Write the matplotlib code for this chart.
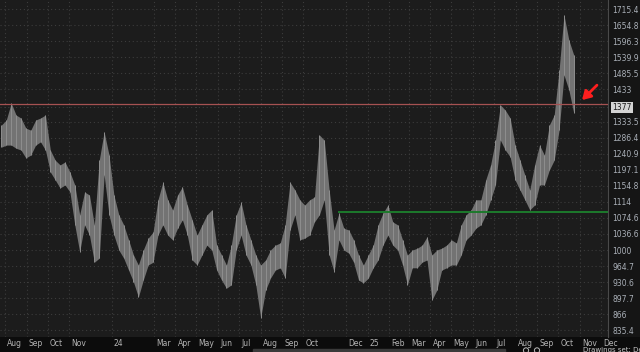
import matplotlib
matplotlib.use("Agg")
import matplotlib.pyplot as plt
import matplotlib.dates as mdates
from matplotlib.ticker import FixedLocator, NullLocator, NullFormatter
import numpy as np
import pandas as pd

# ---------------- data (weekly high / low) ----------------
week_start = pd.date_range("2023-07-24", periods=118, freq="W-MON")
week_high = [1323, 1338, 1390, 1353, 1344, 1314, 1308, 1338, 1344, 1353,
             1251, 1223, 1210, 1218, 1191, 1157, 1082, 1139, 1131, 1058,
             1223, 1303, 1237, 1131, 1082, 1058, 1023, 989, 967, 1000,
             1027, 1041, 1119, 1164, 1119, 1094, 1131, 1152, 1106, 1070,
             1034, 1058, 1082, 1094, 1011, 989, 967, 1011, 1082, 1113,
             1058, 1023, 989, 967, 978, 1000, 1011, 1016, 1058, 1164,
             1144, 1119, 1106, 1119, 1126, 1294, 1279, 1144, 1046, 1086,
             1050, 1046, 1023, 989, 967, 989, 1011, 1058, 1086, 1106,
             1065, 1058, 1023, 989, 1000, 1004, 1011, 1030, 989, 1000,
             1004, 1011, 1023, 1016, 1058, 1082, 1094, 1119, 1119, 1170,
             1210, 1279, 1384, 1368, 1344, 1265, 1223, 1183, 1144, 1210,
             1265, 1237, 1323, 1353, 1497, 1693, 1600, 1548]
week_low = [1259, 1265, 1265, 1256, 1251, 1229, 1237, 1265, 1274, 1251,
            1191, 1170, 1149, 1157, 1139, 1058, 996, 1058, 1034, 973,
            982, 1183, 1082, 1034, 1000, 982, 956, 931, 900, 935,
            967, 973, 1034, 1058, 1034, 1023, 1050, 1070, 1034, 978,
            967, 989, 1011, 1000, 956, 935, 918, 925, 1000, 1034,
            989, 967, 925, 859, 914, 939, 956, 961, 939, 1046,
            1082, 1023, 1027, 1034, 1065, 1082, 1119, 989, 952, 1023,
            1000, 993, 973, 935, 929, 939, 961, 978, 1011, 1034,
            1011, 1000, 967, 925, 961, 961, 973, 978, 894, 914,
            956, 961, 967, 967, 989, 1023, 1034, 1050, 1058, 1082,
            1119, 1157, 1279, 1251, 1232, 1170, 1144, 1119, 1094, 1106,
            1157, 1157, 1196, 1223, 1308, 1480, 1431, 1359]

last_price = 1377
resistance_level = 1388
support_level = 1089
support_start = "2024-11-19"

price_ticks = [835.4, 866, 897.7, 930.6, 964.7, 1000, 1036.6, 1074.6, 1114,
               1154.8, 1197.1, 1240.9, 1286.4, 1333.5, 1433, 1485.5, 1539.9,
               1596.3, 1654.8, 1715.4]
price_tick_labels = ["835.4", "866", "897.7", "930.6", "964.7", "1000", "1036.6",
                     "1074.6", "1114", "1154.8", "1197.1", "1240.9", "1286.4",
                     "1333.5", "1433", "1485.5", "1539.9", "1596.3", "1654.8",
                     "1715.4"]
grid_prices = price_ticks + [1377]

month_dates = ["2023-08-01", "2023-09-01", "2023-10-01", "2023-11-01", "2024-01-01",
               "2024-03-01", "2024-04-01", "2024-05-01", "2024-06-01", "2024-07-01",
               "2024-08-01", "2024-09-01", "2024-10-01", "2024-12-01", "2025-01-01",
               "2025-02-01", "2025-03-01", "2025-04-01", "2025-05-01", "2025-06-01",
               "2025-07-01", "2025-08-01", "2025-09-01", "2025-10-01", "2025-11-01",
               "2025-12-01"]
month_labels = ["Aug", "Sep", "Oct", "Nov", "24", "Mar", "Apr", "May", "Jun", "Jul",
                "Aug", "Sep", "Oct", "Dec", "25", "Feb", "Mar", "Apr", "May", "Jun",
                "Jul", "Aug", "Sep", "Oct", "Nov", "Dec"]

x_start, x_end = "2023-07-25", "2025-12-11"
y_min, y_max = 823, 1750.6
arrow_tail = ("2025-11-28", 1453)
arrow_tip = ("2025-11-01", 1393)

# ---------------- figure ----------------
W, H = 640, 352
fig = plt.figure(figsize=(W / 100, H / 100), dpi=100, facecolor="#151515")

# bottom band (drawn underneath the chart axes)
band = fig.add_axes([0, 0, 1, 15 / H])
band.set_zorder(0)
band.set_xlim(0, W)
band.set_ylim(0, 15)
band.axis("off")
band.add_patch(plt.Rectangle((0, 0), W, 15, color="#0c0c0c", zorder=0))
band.add_patch(plt.Rectangle((253, 0), 252, 3.5, color="#3a3a3a", zorder=1))
band.text(583, 4.6, "Drawings set: Default", color="#c8c8c8", fontsize=5.0,
          va="top", ha="left", clip_on=False)
for cx in (526, 537):
    band.add_patch(plt.Circle((cx, 1.6), 2.6, fill=False, ec="#bbbbbb", lw=0.7))

ax = fig.add_axes([0, 15 / H, 608 / W, 337 / H])
ax.set_zorder(2)
ax.set_facecolor("#1c1c1c")

# price ribbon
dates = mdates.date2num(week_start) + 3.0
hi = np.array(week_high, dtype=float)
lo = np.array(week_low, dtype=float)
ax.fill_between(dates, lo, hi, color="#737373", linewidth=0, zorder=3)
ax.vlines(dates, lo, hi, color="#8e8e8e", linewidth=0.7, zorder=3.5)

ax.set_yscale("log")
ax.set_ylim(y_min, y_max)
ax.set_xlim(mdates.datestr2num(x_start), mdates.datestr2num(x_end))

# grid
for gp in grid_prices:
    ax.axhline(gp, color="#3c3c3c", lw=0.8, ls=(0, (1, 2.5)), zorder=1)
mnums = [mdates.datestr2num(d) for d in month_dates]
for m in mnums:
    ax.axvline(m, color="#3c3c3c", lw=0.8, ls=(0, (1, 2.5)), zorder=1)

# levels
ax.axhline(resistance_level, color="#a65252", lw=0.9, zorder=4)
ax.hlines(support_level, mdates.datestr2num(support_start),
          mdates.datestr2num(x_end), color="#1d7a2c", lw=1.4, zorder=4)

# arrow
ax.annotate("", xy=(mdates.datestr2num(arrow_tip[0]), arrow_tip[1]),
            xytext=(mdates.datestr2num(arrow_tail[0]), arrow_tail[1]),
            arrowprops=dict(arrowstyle="-|>,head_length=0.5,head_width=0.3",
                            color="#ff1e1e", lw=2.0), zorder=6)

# y ticks on the right
ax.yaxis.tick_right()
ax.yaxis.set_major_locator(FixedLocator(price_ticks))
ax.yaxis.set_minor_locator(NullLocator())
ax.yaxis.set_minor_formatter(NullFormatter())
ax.set_yticklabels(price_tick_labels)
ax.tick_params(axis="y", length=0, pad=3, labelsize=5.5, labelcolor="#aab0b8")
for lbl in ax.get_yticklabels():
    lbl.set_horizontalalignment("left")

# current price box
ax.annotate(str(last_price), xy=(1.0, last_price),
            xycoords=("axes fraction", "data"), xytext=(3, 0),
            textcoords="offset points", fontsize=5.5, color="#1a1a1a",
            va="center", ha="left", annotation_clip=False,
            bbox=dict(boxstyle="square,pad=0.15", fc="#d4d4d4", ec="none"))

# x labels in bottom band
ax.xaxis.set_major_locator(FixedLocator(mnums))
ax.set_xticklabels([])
ax.tick_params(axis="x", length=0)
for m, lab in zip(mnums, month_labels):
    ax.annotate(lab, xy=(m, 0), xycoords=("data", "axes fraction"),
                xytext=(1.5, -4.6), textcoords="offset points",
                fontsize=5.5, color="#b4b4b4", ha="left", va="center",
                annotation_clip=False)

for s in ["top", "left", "bottom"]:
    ax.spines[s].set_visible(False)
ax.spines["right"].set_color("#4a4a4a")
ax.spines["right"].set_linewidth(0.8)

fig.savefig("out.png", dpi=100, facecolor=fig.get_facecolor())
